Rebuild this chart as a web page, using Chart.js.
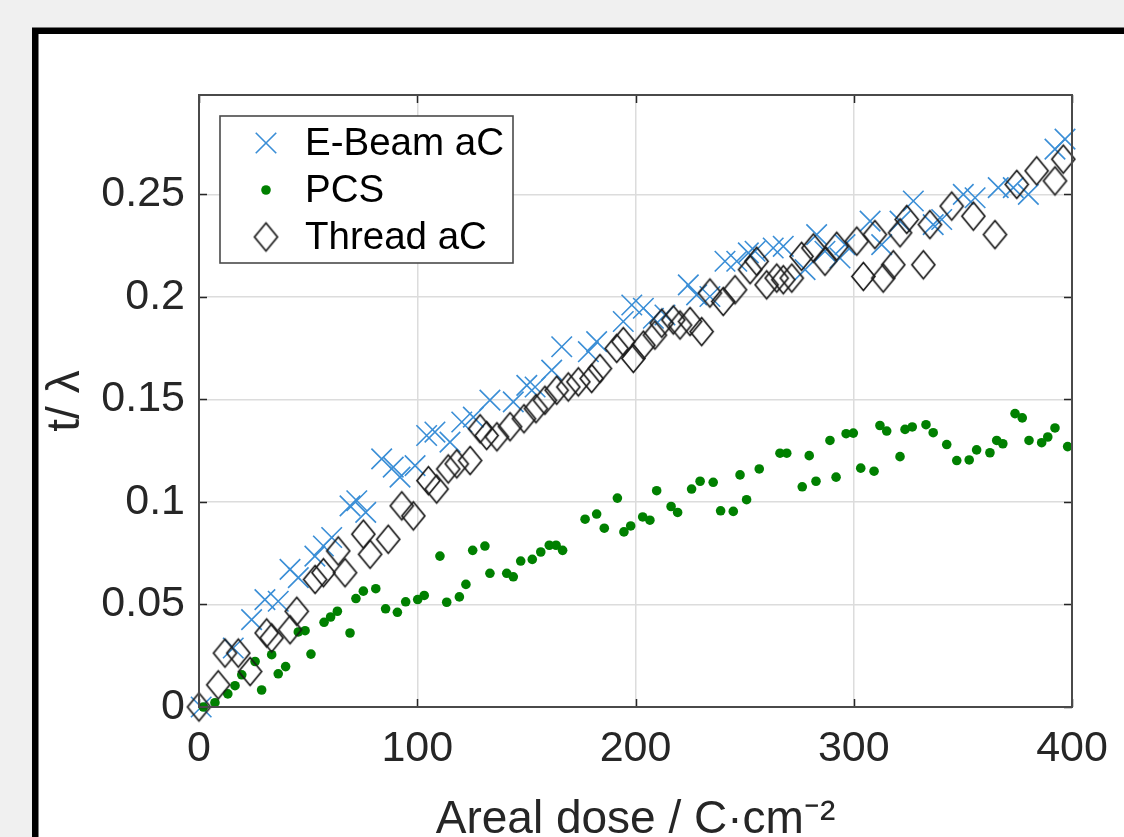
<!DOCTYPE html>
<html><head><meta charset="utf-8">
<script src="https://cdn.jsdelivr.net/npm/chart.js@4.4.1/dist/chart.umd.min.js"></script>
<style>html,body{margin:0;padding:0;background:#f0f0f0;overflow:hidden}canvas{display:block}</style>
</head><body>
<canvas id="c" width="1124" height="837"></canvas>
<script>
const seriesLabels = ['E-Beam aC', 'PCS', 'Thread aC'];
const xTicks = [0, 100, 200, 300, 400];
const xTickLabels = ['0', '100', '200', '300', '400'];
const yTicks = [0, 0.05, 0.1, 0.15, 0.2, 0.25];
const yTickLabels = ['0', '0.05', '0.1', '0.15', '0.2', '0.25'];
const xTitle = 'Areal dose / C·cm⁻²';
const yTitle = 't/ λ';

const ebeamX = [1, 15.7, 24.1, 30.2, 36.3, 41.7, 45.5, 53.1, 57.0, 60.8, 69.2, 72.3, 76.4, 83.7, 89.0, 92.1, 99.0, 104.3, 108.1, 115.0, 120.4, 125.7, 133.3, 144.0, 150.2, 154.0, 161.6, 166.2, 178.4, 182.2, 194.4, 198.3, 203.6, 208.2, 213.5, 224.2, 228.0, 234.1, 241.0, 246.4, 251.7, 254.8, 263.1, 267.7, 277.7, 283.0, 286.8, 293.7, 296.0, 307.5, 312.8, 321.2, 327.3, 336.4, 340.3, 350.2, 355.6, 366.2, 373.1, 380.0, 392.2, 396.8];
const ebeamY = [0.0, 0.0288, 0.0426, 0.0524, 0.0516, 0.0671, 0.0631, 0.0736, 0.0785, 0.0827, 0.0981, 0.1006, 0.0949, 0.1210, 0.1170, 0.1121, 0.1177, 0.1324, 0.1341, 0.1292, 0.1390, 0.1414, 0.1497, 0.1488, 0.1569, 0.1561, 0.1643, 0.1757, 0.1733, 0.1782, 0.1880, 0.1961, 0.1945, 0.1896, 0.1912, 0.2059, 0.2010, 0.2002, 0.2174, 0.2174, 0.2215, 0.2223, 0.2239, 0.2247, 0.2133, 0.2304, 0.2223, 0.2190, 0.2255, 0.2370, 0.2255, 0.2370, 0.2468, 0.2353, 0.2378, 0.2500, 0.2484, 0.2533, 0.2533, 0.2500, 0.2721, 0.2770];

const pcsX = [2.0, 7.3, 13.2, 16.5, 19.6, 25.7, 28.7, 33.3, 36.3, 39.7, 45.5, 48.6, 51.3, 57.3, 60.3, 63.4, 69.2, 71.9, 75.3, 81.0, 85.5, 90.9, 94.7, 100.2, 103.2, 110.4, 113.5, 119.3, 122.3, 125.4, 131.0, 133.3, 141.0, 144.0, 147.4, 152.7, 156.6, 160.5, 163.6, 166.6, 176.9, 182.2, 185.7, 191.7, 194.7, 197.8, 203.3, 206.6, 209.7, 216.3, 219.3, 225.7, 229.6, 235.6, 239.0, 244.8, 247.9, 250.9, 256.7, 266.2, 269.3, 276.4, 279.6, 282.7, 289.1, 291.9, 296.5, 299.8, 303.2, 309.3, 312.0, 315.1, 321.2, 323.5, 326.8, 333.1, 336.4, 342.6, 347.2, 352.9, 356.3, 362.4, 365.5, 368.3, 373.9, 377.2, 380.3, 386.1, 388.9, 392.2, 398.0];
const pcsY = [0.0, 0.0021, 0.0064, 0.0104, 0.0157, 0.0222, 0.0083, 0.0255, 0.0162, 0.0197, 0.0366, 0.0372, 0.0258, 0.0413, 0.0439, 0.0467, 0.0361, 0.0529, 0.0565, 0.0577, 0.0479, 0.0462, 0.0513, 0.0524, 0.0544, 0.0736, 0.0511, 0.0537, 0.0598, 0.0764, 0.0785, 0.0652, 0.0652, 0.0635, 0.0712, 0.0720, 0.0756, 0.0789, 0.0789, 0.0764, 0.0916, 0.0941, 0.0872, 0.1019, 0.0854, 0.0883, 0.0927, 0.0911, 0.1055, 0.0978, 0.0949, 0.1063, 0.1101, 0.1096, 0.0957, 0.0954, 0.1132, 0.1011, 0.1161, 0.1238, 0.1238, 0.1074, 0.1226, 0.1101, 0.1300, 0.1121, 0.1333, 0.1336, 0.1165, 0.1150, 0.1373, 0.1346, 0.1221, 0.1354, 0.1366, 0.1377, 0.1338, 0.1280, 0.1202, 0.1205, 0.1254, 0.1240, 0.1300, 0.1284, 0.1431, 0.1410, 0.1300, 0.1289, 0.1317, 0.1361, 0.1270];

const threadX = [0, 8.8, 11.9, 18.0, 23.4, 31.0, 33.3, 41.7, 44.8, 53.2, 57.0, 63.8, 66.9, 75.3, 78.4, 86.7, 92.9, 98.2, 105.1, 108.9, 114.2, 118.1, 124.2, 128.8, 131.8, 136.5, 142.5, 148.9, 154.4, 158.5, 163.9, 169.2, 173.8, 179.9, 183.7, 191.4, 194.4, 199.0, 203.6, 208.9, 212.0, 217.3, 220.4, 225.0, 230.3, 234.1, 240.2, 245.6, 252.5, 255.5, 260.1, 264.7, 267.7, 271.6, 276.1, 281.5, 286.8, 292.2, 301.4, 304.4, 309.7, 313.5, 318.1, 321.2, 324.3, 331.9, 334.9, 344.9, 354.8, 364.7, 374.7, 383.8, 392.2, 396.0];
const threadY = [0.0, 0.0108, 0.0263, 0.0263, 0.0173, 0.0361, 0.0337, 0.0377, 0.0467, 0.0622, 0.0655, 0.0761, 0.0655, 0.0843, 0.0745, 0.0818, 0.0981, 0.0932, 0.1104, 0.1063, 0.1161, 0.1186, 0.1202, 0.1357, 0.1324, 0.1318, 0.1367, 0.1406, 0.1455, 0.1496, 0.1545, 0.1561, 0.1586, 0.1602, 0.1651, 0.1749, 0.1782, 0.1700, 0.1765, 0.1814, 0.1872, 0.1888, 0.1863, 0.1880, 0.1831, 0.2019, 0.1978, 0.2035, 0.2133, 0.2174, 0.2059, 0.2092, 0.2084, 0.2092, 0.2198, 0.2239, 0.2174, 0.2247, 0.2272, 0.2100, 0.2304, 0.2092, 0.2157, 0.2313, 0.2378, 0.2157, 0.2353, 0.2443, 0.2394, 0.2304, 0.2549, 0.2615, 0.2566, 0.2672];

const pts = (xs, ys) => xs.map((x, i) => ({x: x, y: ys[i]}));

// diamond marker (slightly taller than wide, like MATLAB 'd')
const diamond = document.createElement('canvas');
diamond.width = 27; diamond.height = 33;
(function () {
  const g = diamond.getContext('2d');
  g.strokeStyle = '#1a1a1a'; g.lineWidth = 1.7;
  g.beginPath();
  g.moveTo(13.5, 2.5); g.lineTo(25, 16.5); g.lineTo(13.5, 30.5); g.lineTo(2, 16.5); g.closePath();
  g.stroke();
})();

Chart.defaults.font.family = "'Liberation Sans', Arial, Helvetica, sans-serif";

const FONT = "'Liberation Sans', Arial, Helvetica, sans-serif";

const framePlugin = {
  id: 'frame',
  beforeDraw(chart) {
    const ctx = chart.ctx, W = chart.width, H = chart.height;
    ctx.save();
    ctx.fillStyle = '#f0f0f0'; ctx.fillRect(0, 0, W, H);
    ctx.fillStyle = '#ffffff'; ctx.fillRect(36, 31, W, H);
    ctx.strokeStyle = '#000000'; ctx.lineWidth = 6.5;
    ctx.strokeRect(35.25, 30.75, W + 200, H + 200);
    ctx.restore();
  },
  afterDraw(chart) {
    const ctx = chart.ctx, a = chart.chartArea;
    const xs = chart.scales.x, ys = chart.scales.y;
    ctx.save();
    // inward ticks
    ctx.strokeStyle = '#262626'; ctx.lineWidth = 1.5;
    const tl = 8;
    ctx.beginPath();
    xTicks.forEach(v => {
      const p = Math.round(xs.getPixelForValue(v)) + 0.5;
      ctx.moveTo(p, a.bottom); ctx.lineTo(p, a.bottom - tl);
      ctx.moveTo(p, a.top); ctx.lineTo(p, a.top + tl);
    });
    yTicks.forEach(v => {
      const p = Math.round(ys.getPixelForValue(v)) + 0.5;
      ctx.moveTo(a.left, p); ctx.lineTo(a.left + tl, p);
      ctx.moveTo(a.right, p); ctx.lineTo(a.right - tl, p);
    });
    ctx.stroke();
    // axes box
    ctx.strokeStyle = '#4a4a4a'; ctx.lineWidth = 2;
    ctx.strokeRect(a.left, a.top, a.right - a.left, a.bottom - a.top);

    // legend
    const lx = 220, ly = 116, lw = 293, lh = 147;
    ctx.fillStyle = '#ffffff';
    ctx.fillRect(lx, ly, lw, lh);
    ctx.strokeStyle = '#4a4a4a'; ctx.lineWidth = 1.6;
    ctx.strokeRect(lx, ly, lw, lh);
    const rows = [143, 190, 237];
    chart.data.datasets.forEach((ds, i) => {
      const y = rows[i], mx = 266;
      ctx.save();
      ctx.strokeStyle = ds.borderColor; ctx.fillStyle = ds.backgroundColor;
      ctx.lineWidth = ds.borderWidth;
      Chart.helpers.drawPoint(ctx, {pointStyle: ds.pointStyle, radius: ds.pointRadius, borderWidth: ds.borderWidth, rotation: 0}, mx, y);
      ctx.restore();
      ctx.fillStyle = '#000000';
      ctx.font = '38.5px ' + FONT;
      ctx.textBaseline = 'middle'; ctx.textAlign = 'left';
      ctx.fillText(ds.label, 305, y + 1);
    });
    ctx.restore();
  }
};

new Chart(document.getElementById('c'), {
  type: 'scatter',
  data: {
    datasets: [
      {label: seriesLabels[0], data: pts(ebeamX, ebeamY), pointStyle: 'crossRot', pointRadius: 14.5, borderWidth: 1.6,
       borderColor: '#3a8ed6', backgroundColor: '#3a8ed6', order: 3, clip: false},
      {label: seriesLabels[1], data: pts(pcsX, pcsY), pointStyle: 'circle', pointRadius: 4.8, borderWidth: 0,
       borderColor: '#008000', backgroundColor: '#008000', order: 2, clip: false},
      {label: seriesLabels[2], data: pts(threadX, threadY), pointStyle: diamond, pointRadius: 12, borderWidth: 1.7,
       borderColor: '#1a1a1a', backgroundColor: 'rgba(0,0,0,0)', order: 1, clip: false}
    ]
  },
  options: {
    responsive: false,
    animation: false,
    events: [],
    layout: {padding: {left: 0, top: 95, right: 52, bottom: 0}},
    plugins: {legend: {display: false}, tooltip: {enabled: false}},
    elements: {point: {hoverRadius: 0}},
    scales: {
      x: {
        type: 'linear', min: 0, max: 400,
        afterFit(s) { s.height = 130; },
        afterBuildTicks(s) { s.ticks = xTicks.map(v => ({value: v})); },
        ticks: {callback: (v) => xTickLabels[xTicks.indexOf(v)], font: {size: 43}, color: '#262626', padding: 16, maxRotation: 0, autoSkip: false},
        grid: {color: '#dcdcdc', lineWidth: 1.5, drawTicks: false},
        border: {display: false},
        title: {display: true, text: xTitle, font: {size: 46, lineHeight: 1}, color: '#262626', padding: {top: 0, bottom: -6}}
      },
      y: {
        type: 'linear', min: 0, max: 0.2985,
        afterFit(s) { s.width = 199; },
        afterBuildTicks(s) { s.ticks = yTicks.map(v => ({value: v})); },
        ticks: {callback: (v) => yTickLabels[yTicks.indexOf(v)], font: {size: 43}, color: '#262626', padding: 14},
        grid: {color: '#dcdcdc', lineWidth: 1.5, drawTicks: false},
        border: {display: false},
        title: {display: true, text: yTitle, font: {size: 46}, color: '#262626', padding: {top: 39, bottom: 0}}
      }
    }
  },
  plugins: [framePlugin]
});
</script>
</body></html>
